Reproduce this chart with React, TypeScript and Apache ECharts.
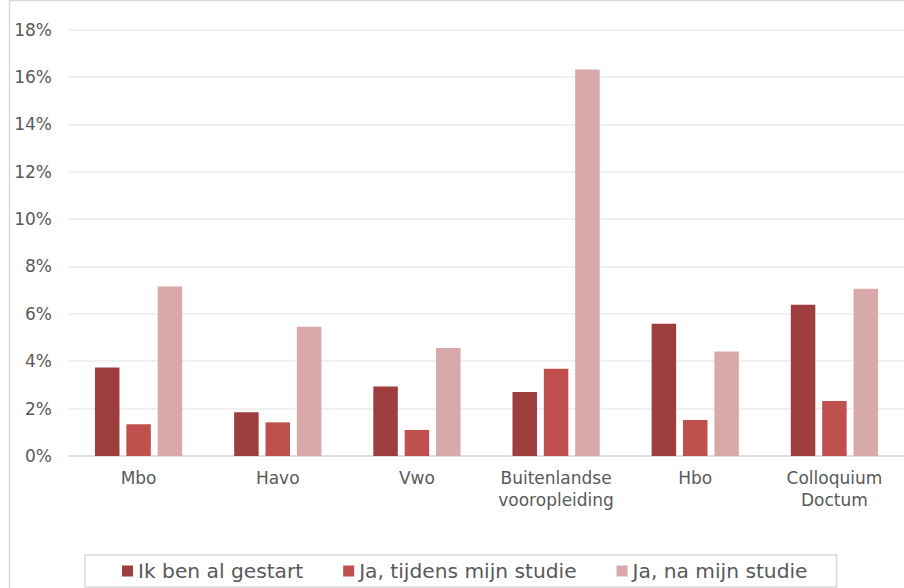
import React, { useEffect, useRef } from "react";
import * as echarts from "echarts";

const categories = ["Mbo", "Havo", "Vwo", "Buitenlandse\nvooropleiding", "Hbo", "Colloquium\nDoctum"];
const seriesNames = ["Ik ben al gestart", "Ja, tijdens mijn studie", "Ja, na mijn studie"];
const alGestart = [3.73, 1.85, 2.93, 2.70, 5.58, 6.38];
const tijdensStudie = [1.34, 1.42, 1.10, 3.68, 1.52, 2.32];
const naStudie = [7.15, 5.46, 4.56, 16.31, 4.41, 7.06];
const colors = ["#9E3E3E", "#C0504D", "#D9A8A8"];

export default function App() {
  const ref = useRef<HTMLDivElement>(null);
  useEffect(() => {
    if (!ref.current) return;
    const chart = echarts.init(ref.current, null, { renderer: "svg" });
    const font = "'DejaVu Sans', Verdana, sans-serif";
    const data = [alGestart, tijdensStudie, naStudie];
    chart.setOption({
      animation: false,
      backgroundColor: "#ffffff",
      textStyle: { fontFamily: font },
      grid: { left: 69, right: -2, top: 29.5, bottom: 132, containLabel: false },
      xAxis: {
        type: "category",
        data: categories,
        axisLine: { lineStyle: { color: "#d9d9d9", width: 1.5 } },
        axisTick: { show: false },
        axisLabel: { interval: 0, color: "#595959", fontSize: 17, lineHeight: 22, margin: 11, fontFamily: font },
      },
      yAxis: {
        type: "value",
        min: 0,
        max: 18,
        interval: 2,
        axisLine: { show: false },
        axisTick: { show: false },
        splitLine: { lineStyle: { color: "#ebebeb", width: 1.5 } },
        axisLabel: { color: "#595959", fontSize: 17, margin: 17, formatter: "{value}%", fontFamily: font },
      },
      legend: {
        left: 85,
        top: 555,
        padding: [6, 29, 6, 37],
        borderColor: "#d9d9d9",
        borderWidth: 1.5,
        itemWidth: 11,
        itemHeight: 11,
        itemGap: 40,
        icon: "rect",
        textStyle: { color: "#595959", fontSize: 20.2, lineHeight: 20, fontFamily: font },
        data: seriesNames,
      },
      graphic: [
        {
          type: "rect",
          shape: { x: 9.5, y: 0.5, width: 1000, height: 1000 },
          style: { fill: "none", stroke: "#d9d9d9", lineWidth: 1.5 },
          silent: true,
        },
      ],
      series: seriesNames.map((name, i) => ({
        name,
        type: "bar",
        data: data[i],
        barWidth: 24.5,
        barGap: "28%",
        itemStyle: { color: colors[i] },
      })),
    });
    return () => chart.dispose();
  }, []);
  return (
    <div
      ref={ref}
      style={{ position: "fixed", left: 0, top: 0, width: 904, height: 588 }}
    />
  );
}
